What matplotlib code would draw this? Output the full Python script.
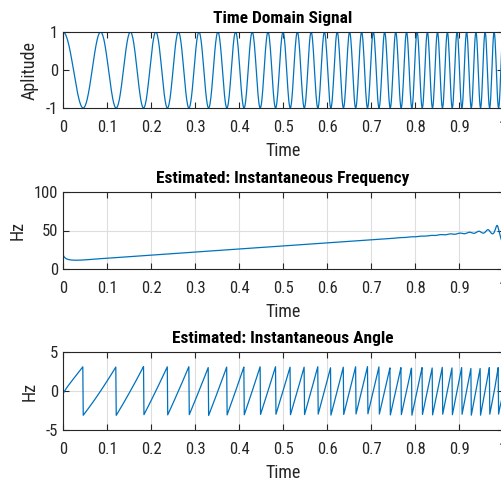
import numpy as np
import matplotlib
matplotlib.use("Agg")
import matplotlib.pyplot as plt

# chirp: ~10 Hz at t=0 rising linearly to ~50 Hz at t=1
F_START = 10.0
F_END = 50.0
DURATION = 1.0
FS = 1000

X_TICKS = [0, 0.1, 0.2, 0.3, 0.4, 0.5, 0.6, 0.7, 0.8, 0.9, 1]
X_TICK_LABELS = ["0", "0.1", "0.2", "0.3", "0.4", "0.5", "0.6", "0.7", "0.8", "0.9", "1"]
TITLES = ["Time Domain Signal", "Estimated: Instantaneous Frequency", "Estimated: Instantaneous Angle"]
YLABELS = ["Aplitude", "Hz", "Hz"]
YLIMS = [(-1, 1), (0, 100), (-5, 5)]
YTICKS = [[-1, 0, 1], [0, 50, 100], [-5, 0, 5]]

BLUE = "#0072BD"
AX_GRAY = "#262626"

plt.rcParams["font.family"] = ["Roboto Condensed", "Liberation Sans", "DejaVu Sans"]
plt.rcParams["axes.unicode_minus"] = False


def analytic(x):
    n = len(x)
    h = np.zeros(n)
    h[0] = 1
    if n % 2 == 0:
        h[n // 2] = 1
        h[1:n // 2] = 2
    else:
        h[1:(n + 1) // 2] = 2
    return np.fft.ifft(np.fft.fft(x) * h)


t = np.arange(0, DURATION + 1 / FS / 2, 1 / FS)
rate = (F_END - F_START) / DURATION
x = np.cos(2 * np.pi * (F_START * t + rate * t ** 2 / 2))
z = analytic(x)
angle = np.angle(z)
inst_f = np.diff(np.unwrap(angle)) / (2 * np.pi) * FS

W, H = 501, 482
fig = plt.figure(figsize=(W / 100, H / 100), dpi=100)
left, right = 63, 503
rows = [(32, 108), (192, 269), (352, 430)]
series = [(t, x), (t[1:], inst_f), (t, angle)]

for i, ((top, bot), (xs, ys)) in enumerate(zip(rows, series)):
    ax = fig.add_axes([left / W, 1 - bot / H, (right - left) / W, (bot - top) / H])
    ax.plot(xs, ys, color=BLUE, linewidth=0.9)
    ax.set_xlim(0, 1)
    ax.set_ylim(*YLIMS[i])
    ax.set_xticks(X_TICKS)
    ax.set_xticklabels(X_TICK_LABELS)
    ax.set_yticks(YTICKS[i])
    ax.tick_params(direction="in", length=4, width=0.8, top=True, right=True,
                   labelsize=12, colors=AX_GRAY)
    ax.tick_params(axis="x", pad=8.5)
    ax.tick_params(axis="y", pad=3.5)
    for s in ax.spines.values():
        s.set_color(AX_GRAY)
        s.set_linewidth(0.8)
    if i > 0:
        ax.grid(True, color="#dedede", linewidth=0.8)
        ax.set_axisbelow(True)
    ax.set_title(TITLES[i], fontsize=12.5, fontweight="bold", color="black", pad=6.5)
    ax.set_xlabel("Time", fontsize=13, color=AX_GRAY, labelpad=5)
    ax.set_ylabel(YLABELS[i], fontsize=13, color=AX_GRAY, labelpad=5)

fig.savefig("out.png", dpi=100)
